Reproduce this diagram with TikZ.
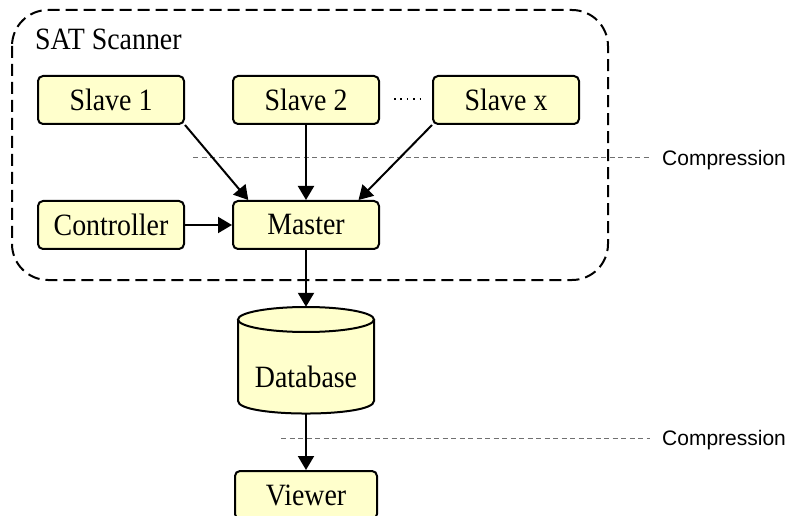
\documentclass[tikz,border=0pt]{standalone}
\usepackage{fontspec}
\setmainfont{Liberation Serif}
\newfontfamily\compfont{Liberation Sans}
\usetikzlibrary{arrows.meta,calc}
\definecolor{boxfill}{HTML}{FFFFCC}
\definecolor{compgray}{HTML}{707070}
\newcommand{\stxt}[1]{\scalebox{0.9}[1]{#1}}
\tikzset{
  box/.style={draw=black, line width=2pt, fill=boxfill, rounded corners=5pt,
    minimum width=146pt, minimum height=48pt, inner sep=0pt,
    font=\fontsize{31}{34}\selectfont},
  conn/.style={line width=2pt, -{Triangle[length=14pt,width=16pt]}},
  compline/.style={draw=compgray, line width=1pt, dash pattern=on 5pt off 3.5pt},
  complabel/.style={anchor=base west, inner sep=0pt, font=\compfont\fontsize{21}{24}\selectfont},
  container/.style={line width=2pt, dash pattern=on 12pt off 6pt, rounded corners=36pt}
}
\begin{document}
\begin{tikzpicture}[x=1pt,y=-1pt]
\useasboundingbox (0,0) rectangle (788,516);
% container
\draw[container] (12,10) rectangle (608,280);
\node[anchor=base west, inner sep=0pt, font=\fontsize{31}{34}\selectfont] (title) at (35,50) {\stxt{SAT Scanner}};
% boxes
\node[box] (s1) at (111,100) {\stxt{Slave 1}};
\node[box] (s2) at (306,100) {\stxt{Slave 2}};
\node[box] (sx) at (506,100) {\stxt{Slave x}};
\node[box] (ctl) at (111,225) {\stxt{Controller}};
\node[box] (m) at (306,225) {\stxt{Master}};
\node[box, minimum width=142pt] (v) at (306,495) {\stxt{Viewer}};
% database
\fill[boxfill] (238,319.5) -- (238,401) .. controls (238,417.7) and (374,417.7) .. (374,401) -- (374,319.5) -- cycle;
\draw[line width=2pt] (238,319.5) -- (238,401) .. controls (238,417.7) and (374,417.7) .. (374,401) -- (374,319.5);
\draw[line width=2pt, fill=boxfill] (306,319.5) ellipse [x radius=68pt, y radius=12.5pt];
\node[minimum width=136pt, minimum height=106pt, inner sep=0pt] (db) at (306,360) {};
\node[font=\fontsize{31}{34}\selectfont, inner sep=0pt] (dbl) at (306,377) {\stxt{Database}};
% dots between slaves
\draw[line width=1.6pt, dash pattern=on 1.6pt off 4.8pt] ($(s2.east)+(14,-1)$) -- ($(sx.west)+(-10,-1)$);
% compression lines
\coordinate (c1a) at (193,158);
\coordinate (c1b) at (650,158);
\draw[compline] (c1a) -- (c1b);
\node[complabel] (comp1) at (662,165.5) {Compression};
\coordinate (c2a) at (281,438);
\coordinate (c2b) at (650,438);
\draw[compline] (c2a) -- (c2b);
\node[complabel] (comp2) at (662,445.5) {Compression};
% connectors
\draw[conn] (s1.south east) -- ($(m.north west)!0.11!(m.north east)$);
\draw[conn] (s2.south) -- (m.north);
\draw[conn] (sx.south west) -- ($(m.north west)!0.855!(m.north east)$);
\draw[conn] (ctl.east) -- (m.west);
\draw[conn] (m.south) -- (db.north);
\draw[conn] (db.south) -- (v.north);
\end{tikzpicture}
\end{document}
